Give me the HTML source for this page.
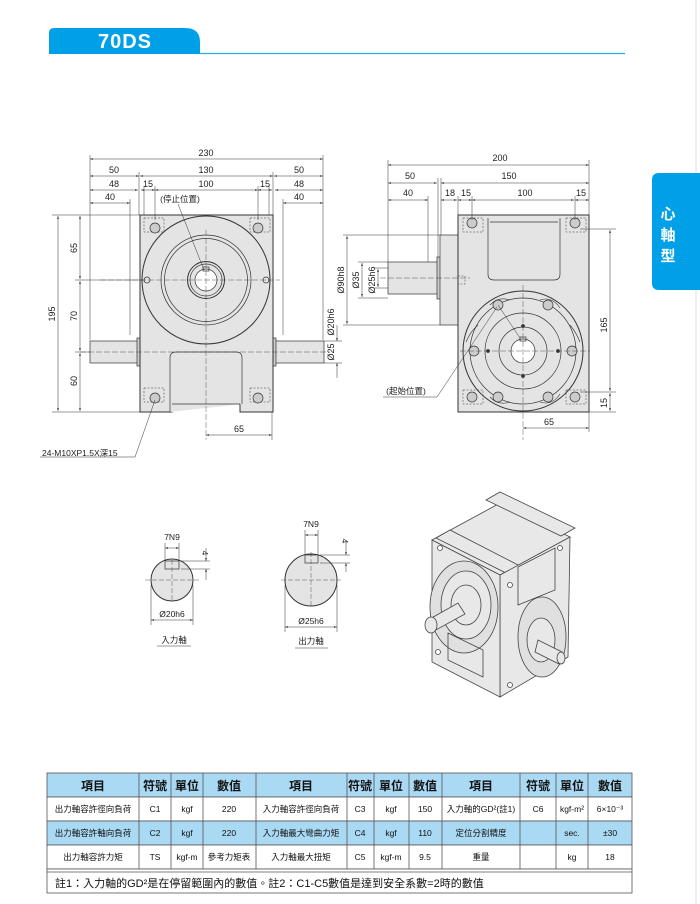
<!DOCTYPE html>
<html><head><meta charset="utf-8"><style>
html,body{margin:0;padding:0;background:#fff;}
svg{display:block;font-family:"Liberation Sans","Noto Sans CJK TC",sans-serif;}
</style></head><body>
<svg width="700" height="904" viewBox="0 0 700 904" xmlns="http://www.w3.org/2000/svg">
<defs>
<marker id="a" viewBox="0 0 10 10" refX="10" refY="5" markerWidth="6" markerHeight="6" orient="auto-start-reverse"><path d="M0,2L10,5L0,8z" fill="#333"/></marker>
</defs>
<!-- header -->
<path d="M49,54 V33 Q49,28 54,28 H185 Q200,28 200,42 V54 Z" fill="#00a0e9"/>
<text x="125" y="48" fill="#fff" font-size="20" font-weight="bold" text-anchor="middle" letter-spacing="1">70DS</text>
<line x1="200" y1="53.5" x2="625" y2="53.5" stroke="#29abe2" stroke-width="1.2"/>
<line x1="696" y1="0" x2="696" y2="904" stroke="#ddd" stroke-width="1"/>
<path d="M700,173 H659 Q652,173 652,180 V283 Q652,290 659,290 H700 Z" fill="#00a0e9"/>
<g fill="#fff" font-size="15" font-weight="bold" text-anchor="middle"><text x="668" y="219">心</text><text x="668" y="240">軸</text><text x="668" y="261">型</text></g>

<g stroke="#333" fill="none" stroke-width="0.7" font-size="9" >
<!-- LEFT VIEW -->
<rect x="90" y="341" width="48" height="22" fill="#e4e4e4"/>
<rect x="275" y="341" width="49" height="22" fill="#e4e4e4"/>
<rect x="137" y="338" width="4" height="28" fill="#ccc"/>
<rect x="272" y="338" width="4" height="28" fill="#ccc"/>
<path d="M140,215 H273 V412 H240 V404 H172 V412 H140 Z" fill="#e4e4e4" stroke-width="1"/>
<path d="M170,412 V358 Q170,352 176,352 H236 Q242,352 242,358 V404" fill="#e4e4e4"/>
<line x1="172" y1="404" x2="240" y2="404"/>
<circle cx="206" cy="280" r="64" fill="#e4e4e4" stroke-width="1"/>
<circle cx="206" cy="280" r="45"/><circle cx="206" cy="280" r="41.5"/>
<circle cx="206" cy="280" r="18.5" stroke-width="1"/><circle cx="206" cy="280" r="16"/><circle cx="206" cy="280" r="11" fill="#fff"/>
<rect x="203" y="267" width="6" height="4"/>
<circle cx="147" cy="280" r="3"/><circle cx="266" cy="280" r="3"/>
<g stroke-dasharray="2,1.5" stroke-width="0.5"><rect x="144" y="218" width="20" height="14"/><rect x="250" y="218" width="20" height="14"/><rect x="144" y="388" width="20" height="14"/><rect x="250" y="388" width="20" height="14"/></g>
<g fill="#ccc"><circle cx="155" cy="228" r="5"/><circle cx="258" cy="228" r="5"/><circle cx="155" cy="398" r="5"/><circle cx="258" cy="398" r="5"/></g>
<g stroke-width="0.4" stroke-dasharray="6,2"><line x1="100" y1="280" x2="280" y2="280"/><line x1="206" y1="230" x2="206" y2="440"/><line x1="80" y1="352" x2="330" y2="352"/></g>
<!-- left dims -->
<g stroke-width="0.5">
<line x1="90" y1="155" x2="90" y2="340"/><line x1="323" y1="155" x2="323" y2="340"/>
<line x1="139" y1="172" x2="139" y2="215"/><line x1="273" y1="172" x2="273" y2="215"/>
<line x1="144" y1="186" x2="144" y2="215"/><line x1="269" y1="186" x2="269" y2="215"/>
<line x1="155" y1="186" x2="155" y2="220"/><line x1="258" y1="186" x2="258" y2="220"/>
<line x1="130" y1="199" x2="130" y2="335"/><line x1="283" y1="199" x2="283" y2="335"/>
<line x1="90" y1="159" x2="323" y2="159" marker-start="url(#a)" marker-end="url(#a)"/>
<line x1="90" y1="176" x2="139" y2="176" marker-start="url(#a)" marker-end="url(#a)"/>
<line x1="140" y1="176" x2="273" y2="176" marker-start="url(#a)" marker-end="url(#a)"/>
<line x1="274" y1="176" x2="323" y2="176" marker-start="url(#a)" marker-end="url(#a)"/>
<line x1="90" y1="190" x2="138" y2="190" marker-start="url(#a)" marker-end="url(#a)"/>
<line x1="141" y1="190" x2="155" y2="190" marker-start="url(#a)" marker-end="url(#a)"/>
<line x1="155" y1="190" x2="258" y2="190" marker-start="url(#a)" marker-end="url(#a)"/>
<line x1="258" y1="190" x2="272" y2="190" marker-start="url(#a)" marker-end="url(#a)"/>
<line x1="275" y1="190" x2="323" y2="190" marker-start="url(#a)" marker-end="url(#a)"/>
<line x1="90" y1="203" x2="130" y2="203" marker-start="url(#a)" marker-end="url(#a)"/>
<line x1="283" y1="203" x2="323" y2="203" marker-start="url(#a)" marker-end="url(#a)"/>
<line x1="52" y1="215" x2="140" y2="215"/><line x1="52" y1="412" x2="140" y2="412"/>
<line x1="75" y1="280" x2="145" y2="280"/><line x1="75" y1="352" x2="90" y2="352"/>
<line x1="58" y1="216" x2="58" y2="411" marker-start="url(#a)" marker-end="url(#a)"/>
<line x1="80" y1="216" x2="80" y2="279" marker-start="url(#a)" marker-end="url(#a)"/>
<line x1="80" y1="281" x2="80" y2="351" marker-start="url(#a)" marker-end="url(#a)"/>
<line x1="80" y1="353" x2="80" y2="411" marker-start="url(#a)" marker-end="url(#a)"/>
<line x1="324" y1="341" x2="342" y2="341"/><line x1="324" y1="363" x2="342" y2="363"/>
<line x1="337" y1="325" x2="337" y2="341" marker-end="url(#a)"/><line x1="337" y1="378" x2="337" y2="363" marker-end="url(#a)"/>
<line x1="206" y1="435" x2="272" y2="435" marker-start="url(#a)" marker-end="url(#a)"/>
<line x1="272" y1="412" x2="272" y2="440"/>
<line x1="40" y1="457" x2="135" y2="457"/><line x1="135" y1="457" x2="155" y2="400"/>
<line x1="178" y1="204" x2="204" y2="270"/>
</g>
<g fill="#222" stroke="none" text-anchor="middle">
<text x="206" y="156">230</text><text x="114" y="173">50</text><text x="206" y="173">130</text><text x="299" y="173">50</text>
<text x="114" y="187">48</text><text x="148" y="187">15</text><text x="206" y="187">100</text><text x="265" y="187">15</text><text x="299" y="187">48</text>
<text x="110" y="200">40</text><text x="299" y="200">40</text>
<text x="180" y="202" font-size="8.5">(停止位置)</text>
<text x="239" y="432">65</text>
<text x="42" y="456" text-anchor="start" font-size="8.5">24-M10XP1.5X深15</text>
<text transform="translate(55,314) rotate(-90)">195</text>
<text transform="translate(77,248) rotate(-90)">65</text>
<text transform="translate(77,316) rotate(-90)">70</text>
<text transform="translate(77,381) rotate(-90)">60</text>
<text transform="translate(334,322) rotate(-90)">Ø20h6</text>
<text transform="translate(334,352) rotate(-90)">Ø25</text>
</g>

<!-- RIGHT VIEW -->
<rect x="388" y="262" width="50" height="32" fill="#e4e4e4"/>
<rect x="437" y="257" width="4" height="42" fill="#ccc"/>
<rect x="440" y="235" width="18" height="90" fill="#e4e4e4"/>
<rect x="458" y="215" width="131" height="197" fill="#e4e4e4" stroke-width="1"/>
<path d="M488,218 V274 Q488,280 494,280 H554 Q560,280 560,274 V218" fill="#e4e4e4"/>
<line x1="490" y1="222" x2="558" y2="222"/>
<circle cx="523" cy="351" r="60" fill="#e4e4e4" stroke-width="1"/>
<circle cx="523" cy="351" r="53"/>
<circle cx="523" cy="351" r="38"/><circle cx="523" cy="351" r="24"/>
<circle cx="523" cy="351" r="12" fill="#fff"/><rect x="520" y="337" width="6" height="4"/>
<g fill="#ccc"><circle cx="498" cy="305" r="5"/><circle cx="548" cy="305" r="5"/><circle cx="474" cy="351" r="5"/><circle cx="572" cy="351" r="5"/><circle cx="498" cy="397" r="5"/><circle cx="548" cy="397" r="5"/><circle cx="472" cy="223" r="5"/><circle cx="575" cy="223" r="5"/><circle cx="472" cy="397" r="5"/><circle cx="575" cy="397" r="5"/></g>
<g stroke-width="0.6"><path d="M490,305 Q498,296 510,300"/><path d="M540,300 Q552,296 560,308"/><path d="M466,342 Q470,332 478,325"/><path d="M580,342 Q576,332 570,325"/><path d="M490,397 Q498,406 510,402"/><path d="M540,402 Q552,406 560,394"/></g>
<g fill="#333"><circle cx="523" cy="326" r="1.5"/><circle cx="523" cy="376" r="1.5"/><circle cx="488" cy="351" r="1.5"/><circle cx="558" cy="351" r="1.5"/></g>
<g stroke-dasharray="2,1.5" stroke-width="0.5"><rect x="463" y="218" width="20" height="14"/><rect x="566" y="218" width="20" height="14"/><rect x="463" y="390" width="20" height="14"/><rect x="566" y="390" width="20" height="14"/><rect x="458" y="276" width="7" height="8"/></g>
<g stroke-width="0.4" stroke-dasharray="6,2"><line x1="380" y1="278" x2="470" y2="278"/><line x1="460" y1="351" x2="590" y2="351"/><line x1="523" y1="285" x2="523" y2="440"/></g>
<g stroke-width="0.5">
<line x1="388" y1="160" x2="388" y2="262"/><line x1="589" y1="160" x2="589" y2="215"/>
<line x1="438" y1="178" x2="438" y2="257"/><line x1="441" y1="178" x2="441" y2="235"/>
<line x1="428" y1="196" x2="428" y2="262"/><line x1="458" y1="196" x2="458" y2="215"/>
<line x1="472" y1="196" x2="472" y2="220"/><line x1="575" y1="196" x2="575" y2="220"/>
<line x1="388" y1="165" x2="589" y2="165" marker-start="url(#a)" marker-end="url(#a)"/>
<line x1="388" y1="183" x2="437" y2="183" marker-start="url(#a)" marker-end="url(#a)"/>
<line x1="441" y1="183" x2="589" y2="183" marker-start="url(#a)" marker-end="url(#a)"/>
<line x1="388" y1="200" x2="428" y2="200" marker-start="url(#a)" marker-end="url(#a)"/>
<line x1="441" y1="200" x2="457" y2="200" marker-start="url(#a)" marker-end="url(#a)"/>
<line x1="458" y1="200" x2="472" y2="200" marker-start="url(#a)" marker-end="url(#a)"/>
<line x1="472" y1="200" x2="574" y2="200" marker-start="url(#a)" marker-end="url(#a)"/>
<line x1="575" y1="200" x2="589" y2="200" marker-start="url(#a)" marker-end="url(#a)"/>
<line x1="343" y1="235" x2="440" y2="235"/><line x1="343" y1="325" x2="440" y2="325"/>
<line x1="347" y1="236" x2="347" y2="324" marker-start="url(#a)" marker-end="url(#a)"/>
<line x1="358" y1="262" x2="388" y2="262"/><line x1="358" y1="298" x2="388" y2="298"/>
<line x1="362" y1="263" x2="362" y2="297" marker-start="url(#a)" marker-end="url(#a)"/>
<line x1="374" y1="268" x2="388" y2="268"/><line x1="374" y1="288" x2="388" y2="288"/>
<line x1="378" y1="269" x2="378" y2="287" marker-start="url(#a)" marker-end="url(#a)"/>
<line x1="580" y1="229" x2="616" y2="229"/><line x1="580" y1="392" x2="616" y2="392"/><line x1="589" y1="412" x2="616" y2="412"/>
<line x1="610" y1="230" x2="610" y2="391" marker-start="url(#a)" marker-end="url(#a)"/>
<line x1="610" y1="393" x2="610" y2="411" marker-start="url(#a)" marker-end="url(#a)"/>
<line x1="523" y1="428" x2="589" y2="428" marker-start="url(#a)" marker-end="url(#a)"/>
<line x1="589" y1="412" x2="589" y2="432"/>
<line x1="383" y1="397" x2="437" y2="397"/><line x1="437" y1="397" x2="497" y2="307"/>
<line x1="498" y1="305" x2="520" y2="338"/>
</g>
<g fill="#222" stroke="none" text-anchor="middle">
<text x="500" y="161">200</text><text x="410" y="179">50</text><text x="509" y="179">150</text>
<text x="408" y="196">40</text><text x="450" y="196">18</text><text x="466" y="196">15</text><text x="525" y="196">100</text><text x="581" y="196">15</text>
<text x="549" y="425">65</text>
<text x="406" y="394" font-size="8.5">(起始位置)</text>
<text transform="translate(344,280) rotate(-90)">Ø90h8</text>
<text transform="translate(359,280) rotate(-90)">Ø35</text>
<text transform="translate(375,280) rotate(-90)">Ø25h6</text>
<text transform="translate(607,325) rotate(-90)">165</text>
<text transform="translate(607,403) rotate(-90)">15</text>
</g>

<!-- keyway sections -->
<circle cx="172" cy="580" r="21" fill="#e4e4e4" stroke-width="1"/>
<rect x="165" y="561" width="14" height="8" fill="#e4e4e4"/>
<circle cx="311" cy="580" r="26" fill="#e4e4e4" stroke-width="1"/>
<rect x="305" y="555" width="13" height="8" fill="#e4e4e4"/>
<g stroke-width="0.4" stroke-dasharray="5,2"><line x1="145" y1="580" x2="199" y2="580"/><line x1="172" y1="560" x2="172" y2="600"/><line x1="281" y1="580" x2="341" y2="580"/><line x1="311" y1="552" x2="311" y2="608"/></g>
<g stroke-width="0.5">
<line x1="165" y1="543" x2="165" y2="561"/><line x1="179" y1="543" x2="179" y2="561"/>
<line x1="165" y1="548" x2="179" y2="548" marker-start="url(#a)" marker-end="url(#a)"/>
<line x1="181" y1="561" x2="210" y2="561"/><line x1="181" y1="569" x2="210" y2="569"/>
<line x1="206" y1="548" x2="206" y2="561" marker-end="url(#a)"/><line x1="206" y1="580" x2="206" y2="569" marker-end="url(#a)"/>
<line x1="151" y1="585" x2="151" y2="625"/><line x1="193" y1="585" x2="193" y2="625"/>
<line x1="151" y1="620" x2="193" y2="620" marker-start="url(#a)" marker-end="url(#a)"/>
<line x1="305" y1="530" x2="305" y2="555"/><line x1="318" y1="530" x2="318" y2="555"/>
<line x1="305" y1="535" x2="318" y2="535" marker-start="url(#a)" marker-end="url(#a)"/>
<line x1="320" y1="555" x2="350" y2="555"/><line x1="320" y1="563" x2="350" y2="563"/>
<line x1="346" y1="540" x2="346" y2="555" marker-end="url(#a)"/><line x1="346" y1="572" x2="346" y2="563" marker-end="url(#a)"/>
<line x1="285" y1="585" x2="285" y2="632"/><line x1="337" y1="585" x2="337" y2="632"/>
<line x1="285" y1="627" x2="337" y2="627" marker-start="url(#a)" marker-end="url(#a)"/>
<line x1="157" y1="646" x2="191" y2="646"/><line x1="295" y1="648" x2="328" y2="648"/>
</g>
<g fill="#222" stroke="none" text-anchor="middle" font-size="8.5">
<text x="172" y="540">7N9</text><text x="311" y="527">7N9</text>
<text transform="translate(202,553) rotate(90)">4</text><text transform="translate(342,541) rotate(90)">4</text>
<text x="172" y="617">Ø20h6</text><text x="311" y="624">Ø25h6</text>
<text x="174" y="643">入力軸</text><text x="311" y="644">出力軸</text>
</g>

<!-- iso view -->
<g fill="#e8e8e8" stroke="#444" stroke-width="0.8">
<path d="M432,540 L502,502 L570,537 L500,575 Z"/>
<path d="M486,500 L500,492 L575,528 L561,536 Z"/>
<path d="M436,538 L450,530 L520,566 L506,573 Z"/>
<path d="M500,575 L570,537 L568,657 L500,697 Z"/>
<path d="M432,540 L500,575 L500,697 L432,662 Z"/>
<ellipse cx="464" cy="607" rx="34" ry="46" fill="#e0e0e0"/>
<ellipse cx="466" cy="605" rx="25" ry="34"/>
<ellipse cx="466" cy="605" rx="15" ry="20"/>
<path d="M428,620 L458,603 L465,614 L434,631 Z" fill="#e8e8e8"/>
<ellipse cx="431" cy="625" rx="6" ry="8"/>
<path d="M518,567 L555,548 L555,590 L518,605 Z" fill="none"/>
<path d="M448,633 L483,650 L483,677 L448,660 Z" fill="none"/>
<ellipse cx="542" cy="637" rx="24" ry="40" fill="#e0e0e0"/>
<ellipse cx="541" cy="640" rx="14" ry="22"/>
<path d="M538,640 L562,652 L559,664 L535,652 Z"/><ellipse cx="561" cy="658" rx="4" ry="6"/>
<g fill="#fff"><circle cx="440" cy="548" r="2.5"/><circle cx="438" cy="652" r="2.5"/><circle cx="510" cy="585" r="2.5"/><circle cx="510" cy="685" r="2.5"/><circle cx="560" cy="548" r="2.5"/></g>
</g>

<!-- table -->
<g stroke="#555" stroke-width="0.8">
<rect x="47" y="773" width="585" height="24" fill="#a9d9f3"/>
<rect x="47" y="797" width="585" height="24" fill="#fff"/>
<rect x="47" y="821" width="585" height="24" fill="#a9d9f3"/>
<rect x="47" y="845" width="585" height="24" fill="#fff"/>
<rect x="47" y="869" width="585" height="24" fill="#fff"/>
<line x1="47" y1="872" x2="632" y2="872"/>
<g>
<line x1="139" y1="773" x2="139" y2="869"/><line x1="171" y1="773" x2="171" y2="869"/><line x1="203" y1="773" x2="203" y2="869"/>
<line x1="256" y1="773" x2="256" y2="869"/><line x1="347" y1="773" x2="347" y2="869"/><line x1="374" y1="773" x2="374" y2="869"/>
<line x1="409" y1="773" x2="409" y2="869"/><line x1="442" y1="773" x2="442" y2="869"/><line x1="520" y1="773" x2="520" y2="869"/>
<line x1="556" y1="773" x2="556" y2="869"/><line x1="588" y1="773" x2="588" y2="869"/>
</g>
</g>
<g fill="#111" stroke="none" text-anchor="middle" font-size="12" font-weight="bold">
<text x="93" y="790">項目</text><text x="155" y="790">符號</text><text x="187" y="790">單位</text><text x="229" y="790">數值</text>
<text x="301" y="790">項目</text><text x="360" y="790">符號</text><text x="391" y="790">單位</text><text x="425" y="790">數值</text>
<text x="481" y="790">項目</text><text x="538" y="790">符號</text><text x="572" y="790">單位</text><text x="610" y="790">數值</text>
</g>
<g fill="#111" stroke="none" text-anchor="middle" font-size="8.5">
<text x="93" y="812">出力軸容許徑向負荷</text><text x="155" y="812">C1</text><text x="187" y="812">kgf</text><text x="229" y="812">220</text>
<text x="301" y="812">入力軸容許徑向負荷</text><text x="360" y="812">C3</text><text x="391" y="812">kgf</text><text x="425" y="812">150</text>
<text x="481" y="812">入力軸的GD²(註1)</text><text x="538" y="812">C6</text><text x="572" y="812">kgf-m²</text><text x="610" y="812">6×10⁻³</text>
<text x="93" y="836">出力軸容許軸向負荷</text><text x="155" y="836">C2</text><text x="187" y="836">kgf</text><text x="229" y="836">220</text>
<text x="301" y="836">入力軸最大彎曲力矩</text><text x="360" y="836">C4</text><text x="391" y="836">kgf</text><text x="425" y="836">110</text>
<text x="481" y="836">定位分割精度</text><text x="572" y="836">sec.</text><text x="610" y="836">±30</text>
<text x="93" y="860">出力軸容許力矩</text><text x="155" y="860">TS</text><text x="187" y="860">kgf-m</text><text x="229" y="860">參考力矩表</text>
<text x="301" y="860">入力軸最大扭矩</text><text x="360" y="860">C5</text><text x="391" y="860">kgf-m</text><text x="425" y="860">9.5</text>
<text x="481" y="860">重量</text><text x="572" y="860">kg</text><text x="610" y="860">18</text>
<text x="55" y="887" text-anchor="start" font-size="11">註1：入力軸的GD²是在停留範圍內的數值。註2：C1-C5數值是達到安全系數=2時的數值</text>
</g>
</g>
</svg>
</body></html>
